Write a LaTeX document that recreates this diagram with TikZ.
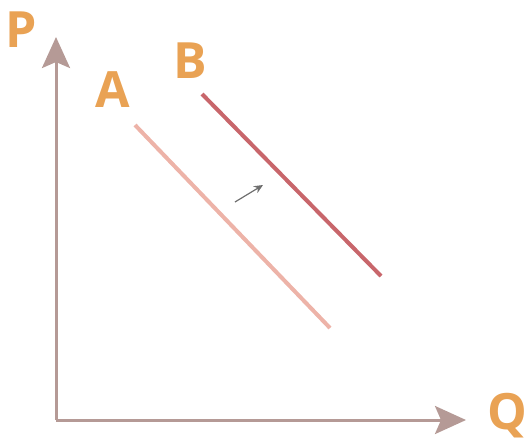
\documentclass[tikz,border=0pt]{standalone}
\usepackage{fontspec}
\setsansfont{Open Sans}
\usepackage{tikz}
\usetikzlibrary{arrows.meta, positioning, calc}
\definecolor{axisink}{HTML}{B59A96}
\definecolor{labelorange}{HTML}{E9A254}
\definecolor{curvea}{HTML}{EDB3A8}
\definecolor{curveb}{HTML}{C8666B}
\definecolor{shiftgray}{HTML}{6E6E6E}
\tikzset{
  axislbl/.style={font=\sffamily\bfseries\fontsize{25}{25}\selectfont, text=labelorange, inner sep=0pt},
  axis/.style={-{Stealth[length=15.5pt, width=14pt, inset=3pt]}, draw=axisink, line width=1.5pt},
  linea/.style={draw=curvea, line width=2pt},
  lineb/.style={draw=curveb, line width=2pt},
  shiftarrow/.style={-{Stealth[length=4.5pt, width=4pt]}, draw=shiftgray, line width=0.6pt}
}
\begin{document}
\begin{tikzpicture}[x=0.5pt, y=-0.5pt]
\useasboundingbox (0,0) rectangle (524,446);
\coordinate (orig) at (56,420);
\coordinate (ptop) at (56,37);
\coordinate (qend) at (466,420);
\node[axislbl] (plbl) at (21,30) {P};
\node[axislbl] (qlbl) at (507,416) {Q};
\node[axislbl] (albl) at (113,90) {A};
\node[axislbl] (blbl) at (190,61) {B};
\coordinate (a1) at (135,125); \coordinate (a2) at (330,328);
\coordinate (b1) at (202,94); \coordinate (b2) at (381,276);
\coordinate (s1) at (235,202); \coordinate (s2) at (263,185);
\draw[axis] (orig)--(ptop); \draw[axis] (orig)--(qend);
\draw[linea] (a1)--(a2); \draw[lineb] (b1)--(b2);
\draw[shiftarrow] (s1)--(s2);
\end{tikzpicture}
\end{document}
